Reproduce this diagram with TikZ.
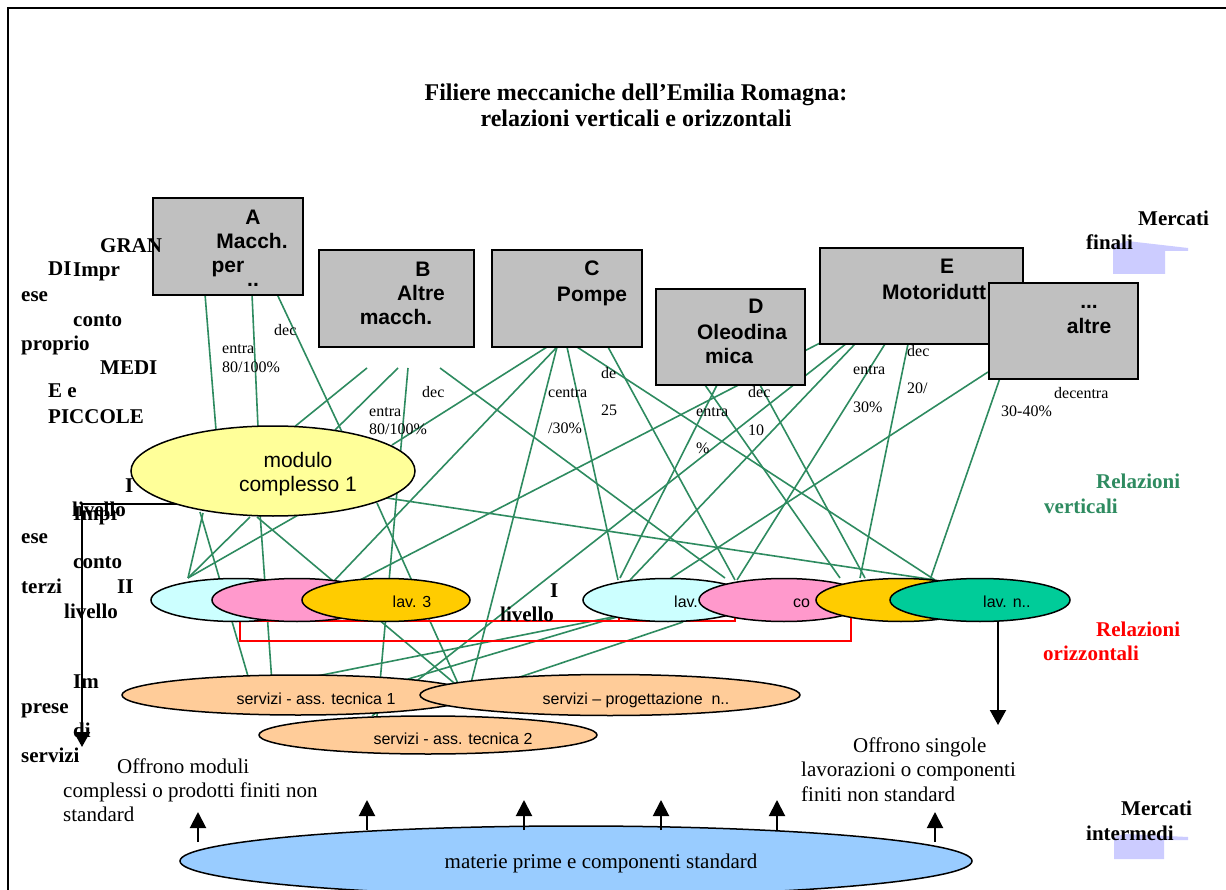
\documentclass[tikz,border=0pt]{standalone}
\usepackage{fontspec}
\setmainfont{Liberation Serif}
\setsansfont{Liberation Sans}
\usetikzlibrary{shapes.geometric,arrows.meta}
\definecolor{glc}{HTML}{2E8B60}
\definecolor{boxgray}{HTML}{C0C0C0}
\definecolor{cyel}{HTML}{FFFF99}
\definecolor{ccyan}{HTML}{CCFFFF}
\definecolor{cpink}{HTML}{FF99CC}
\definecolor{cgold}{HTML}{FFCC00}
\definecolor{cgreen}{HTML}{00CC99}
\definecolor{cpeach}{HTML}{FFCC99}
\definecolor{cblue}{HTML}{99CCFF}
\definecolor{clav}{HTML}{CCCCFF}
\begin{document}
\begin{tikzpicture}[x=1pt,y=-1pt,
  gl/.style={draw=glc, line width=1.6pt},
  rl/.style={draw=red, line width=1.4pt},
  box/.style={fill=boxgray, draw=black, line width=1.8pt, inner sep=0pt, anchor=north west},
  ell/.style={ellipse, draw=black, line width=1.5pt, inner sep=0pt},
  lbl/.style={font=\fontsize{21}{25}\selectfont\bfseries, anchor=base west, inner sep=0pt},
  gtx/.style={font=\fontsize{16}{18}\selectfont, anchor=base west, inner sep=0pt},
  btx/.style={font=\sffamily\bfseries\fontsize{21}{25}\selectfont, anchor=base, inner sep=0pt},
  etx/.style={font=\sffamily\fontsize{16}{18}\selectfont, anchor=base, inner sep=0pt},
  ptx/.style={font=\fontsize{21}{25}\selectfont, anchor=base west, inner sep=0pt},
  uparr/.style={line width=2pt, -{Triangle[width=16pt,length=16pt]}},
  ]
\useasboundingbox (0,0) rectangle (1226,890);
\fill[white] (0,0) rectangle (1226,890);
% frame
\draw[line width=1.2pt] (8,890) -- (8,8) -- (1226,8);

% title
\node[font=\fontsize{24}{27}\selectfont\bfseries, anchor=base, inner sep=0pt] (t1) at (636,101) {Filiere meccaniche dell’Emilia Romagna:};
\node[font=\fontsize{24}{27}\selectfont\bfseries, anchor=base, inner sep=0pt] (t2) at (636,127) {relazioni verticali e orizzontali};

% green relation lines
\foreach \n/\a/\b/\c/\d in {
  1/205/294/216/430, 2/252/294/258/427, 3/277/294/342/432,
  4/367/368/293/428, 5/398/368/335/430, 6/408/368/377/716,
  7/440/368/725/578, 8/547/347/392/445, 9/557/347/333/582,
  10/557/347/471/683, 11/567/347/618/580, 12/577/347/935/580,
  13/608/347/735/580, 14/705/385/840/578, 15/717/385/620/578,
  16/760/385/865/578, 17/820/343/360/580, 18/847/343/372/716,
  19/855/344/630/580, 20/885/344/737/580, 21/908/344/860/578,
  22/988/372/668/580, 23/1000/378/930/580, 24/380/497/935/580,
  25/200/512/250/683, 26/260/513/272/683, 27/282/683/613/617,
  28/405/680/617/617, 29/520/677/683/622, 30/377/503/460/688,
  31/257/517/460/688, 32/203/513/188/578, 33/250/517/188/578,
  34/300/514/188/578}{
  \coordinate (gs\n) at (\a,\b);
  \coordinate (ge\n) at (\c,\d);
  \draw[gl] (gs\n) -- (ge\n);
}

% red horizontal relations
\coordinate (r1) at (240,621); \coordinate (r2) at (240,641);
\coordinate (r3) at (851,641); \coordinate (r4) at (851,616);
\coordinate (r5) at (735,621); \coordinate (r6) at (735,611);
\coordinate (r7) at (619,613); \coordinate (r8) at (619,621);
\draw[rl] (r6) -- (r5) -- (r1) -- (r2) -- (r3) -- (r4);
\draw[rl] (r7) -- (r8);

% black L arrow from modulo
\coordinate (la) at (200,504); \coordinate (lb) at (82,504); \coordinate (lc) at (82,747);
\draw[line width=2pt, -{Triangle[width=16pt,length=15pt]}] (la) -- (lb) -- (lc);

% boxes
\node[box, minimum width=150pt, minimum height=97pt] (A) at (152,197) {};
\node[box, minimum width=155pt, minimum height=97pt] (B) at (318,249) {};
\node[box, minimum width=150pt, minimum height=97pt] (C) at (491,249) {};
\node[box, minimum width=149pt, minimum height=96pt] (D) at (655,288) {};
\node[box, minimum width=203pt, minimum height=96pt] (E) at (819,247) {};
\node[btx] (Et1) at (947,274) {E};
\node[btx, anchor=base west] (Et2) at (882,300) {Motoridutt};
\node[box, minimum width=149pt, minimum height=96pt] (F) at (988,282) {};

\node[btx] (At1) at (253,225) {A};
\node[btx] (At2) at (252,249) {Macch.};
\node[btx] (At3) at (228,273) {per};
\node[btx] (At4) at (253,287) {..};
\node[btx] (Bt1) at (423,277) {B};
\node[btx] (Bt2) at (421,301) {Altre};
\node[btx] (Bt3) at (396,325) {macch.};
\node[btx] (Ct1) at (592,276) {C};
\node[btx] (Ct2) at (592,302) {Pompe};
\node[btx] (Dt1) at (756,314) {D};
\node[btx] (Dt2) at (742,340) {Oleodina};
\node[btx] (Dt3) at (729,363) {mica};
\node[btx] (Ft1) at (1089,309) {...};
\node[btx] (Ft2) at (1089,334) {altre};

% market shapes
\fill[clav] (1113,274) -- (1113,246) -- (1127,241) -- (1188,248) -- (1188,251) -- (1165,251) -- (1165,274) -- cycle;
\fill[clav] (1114,859) -- (1114,837) -- (1125,834) -- (1188,837) -- (1188,840) -- (1164,840) -- (1164,859) -- cycle;

% modulo complesso
\node[ell, fill=cyel, minimum width=284pt, minimum height=90pt] (mod) at (273,471) {};
\node[etx, font=\sffamily\fontsize{21}{25}\selectfont] (modt1) at (298,467) {modulo};
\node[etx, font=\sffamily\fontsize{21}{25}\selectfont] (modt2) at (298,491) {complesso 1};

% level II ellipses group 1
\node[ell, fill=ccyan, minimum width=170pt, minimum height=43pt] (c1) at (236,600) {};
\node[ell, fill=cpink, minimum width=170pt, minimum height=43pt] (p1) at (297,600) {};
\node[ell, fill=cgold, minimum width=168pt, minimum height=43pt] (o1) at (386,600) {};
\node[etx] (o1t) at (412,607) {lav. 3};
% group 2
\node[ell, fill=ccyan, minimum width=170pt, minimum height=43pt] (c2) at (668,600) {};
\node[etx, anchor=base west] (c2t) at (674,607) {lav.};
\node[ell, fill=cpink, minimum width=170pt, minimum height=43pt] (p2) at (784,600) {};
\node[etx, anchor=base west] (p2t) at (793,607) {co};
\node[ell, fill=cgold, minimum width=170pt, minimum height=43pt] (o2) at (901,600) {};
\node[ell, fill=cgreen, minimum width=180pt, minimum height=43pt] (g2) at (980,600) {};
\node[etx, anchor=base west] (g2t) at (983,607) {lav. n..};

% down arrow from lav. n
\coordinate (da) at (998,621); \coordinate (db) at (998,725);
\draw[line width=2pt, -{Triangle[width=16pt,length=15pt]}] (da) -- (db);

% services
\node[ell, fill=cpeach, minimum width=352pt, minimum height=40pt] (s1) at (298,695) {};
\node[etx] (s1t) at (316,704) {servizi - ass. tecnica 1};
\node[ell, fill=cpeach, minimum width=380pt, minimum height=41pt] (s3) at (610,695) {};
\node[etx] (s3t) at (636,704) {servizi – progettazione\ \ n..};
\node[ell, fill=cpeach, minimum width=338pt, minimum height=38pt] (s2) at (428,735) {};
\node[etx] (s2t) at (453,744) {servizi - ass. tecnica 2};

% base ellipse
\node[ell, fill=cblue, minimum width=792pt, minimum height=70pt] (base) at (576,861) {};
\node[font=\fontsize{21}{25}\selectfont, anchor=base, inner sep=0pt] (baset) at (601,868) {materie prime e componenti standard};

% up arrows
\foreach \i/\x/\t in {1/198/812, 2/367/800, 3/524/800, 4/661/800, 5/777/800, 6/935/812}{
  \coordinate (ua\i) at (\x,\t+30);
  \coordinate (ub\i) at (\x,\t);
  \draw[uparr] (ua\i) -- (ub\i);
}

% green line labels
\node[gtx] (l1) at (274,336) {dec};
\node[gtx] (l2) at (222,354) {entra};
\node[gtx] (l3) at (222,373) {80/100\%};
\node[gtx] (l4) at (422,397) {dec};
\node[gtx] (l5) at (369,416) {entra};
\node[gtx] (l6) at (369,434) {80/100\%};
\node[gtx] (l7) at (548,397) {centra};
\node[gtx] (l8) at (548,433) {/30\%};
\node[gtx] (l9) at (601,378) {de};
\node[gtx] (l10) at (601,415) {25};
\node[gtx] (l11) at (696,416) {entra};
\node[gtx] (l12) at (696,453) {\%};
\node[gtx] (l13) at (748,398) {dec};
\node[gtx] (l14) at (748,435) {10};
\node[gtx] (l15) at (853,375) {entra};
\node[gtx] (l16) at (853,412) {30\%};
\node[gtx] (l17) at (907,357) {dec};
\node[gtx] (l18) at (907,394) {20/};
\node[gtx] (l19) at (1054,399) {decentra};
\node[gtx] (l20) at (1001,417) {30-40\%};

% left labels
\node[lbl] (k1) at (100,253) {GRAN};
\node[lbl] (k2) at (48,276) {DI};
\node[lbl] (k3) at (73,277) {Impr};
\node[lbl] (k4) at (21,302) {ese};
\node[lbl] (k5) at (73,327) {conto};
\node[lbl] (k6) at (21,351) {proprio};
\node[lbl] (k7) at (100,374) {MEDI};
\node[lbl] (k8) at (48,398) {E e};
\node[lbl] (k9) at (48,423) {PICCOLE};
\node[lbl] (m1) at (125,492) {I};
\node[lbl] (m2) at (72,516) {livello};
\node[lbl] (m3) at (73,520) {Impr};
\node[lbl] (m4) at (21,543) {ese};
\node[lbl] (m5) at (73,568) {conto};
\node[lbl] (m6) at (21,593) {terzi};
\node[lbl] (m7) at (117,593) {II};
\node[lbl] (m8) at (64,618) {livello};
\node[lbl] (m9) at (550,597) {I};
\node[lbl] (m10) at (500,621) {livello};
\node[lbl] (n1) at (73,688) {Im};
\node[lbl] (n2) at (21,713) {prese};
\node[lbl] (n3) at (73,737) {di};
\node[lbl] (n4) at (21,762) {servizi};

% right labels
\node[lbl] (q1) at (1138,226) {Mercati};
\node[lbl] (q2) at (1086,250) {finali};
\node[lbl, text=glc] (q3) at (1096,488) {Relazioni};
\node[lbl, text=glc] (q4) at (1044,513) {verticali};
\node[lbl, text=red] (q5) at (1096,636) {Relazioni};
\node[lbl, text=red] (q6) at (1043,660) {orizzontali};
\node[lbl] (q7) at (1121,815) {Mercati};
\node[lbl] (q8) at (1086,840) {intermedi};

% descriptions
\node[ptx] (d1) at (117,773) {Offrono moduli};
\node[ptx] (d2) at (63,797) {complessi o prodotti finiti non};
\node[ptx] (d3) at (63,821) {standard};
\node[ptx] (d4) at (853,752) {Offrono singole};
\node[ptx] (d5) at (801,776) {lavorazioni o componenti};
\node[ptx] (d6) at (801,801) {finiti non standard};
\end{tikzpicture}
\end{document}
